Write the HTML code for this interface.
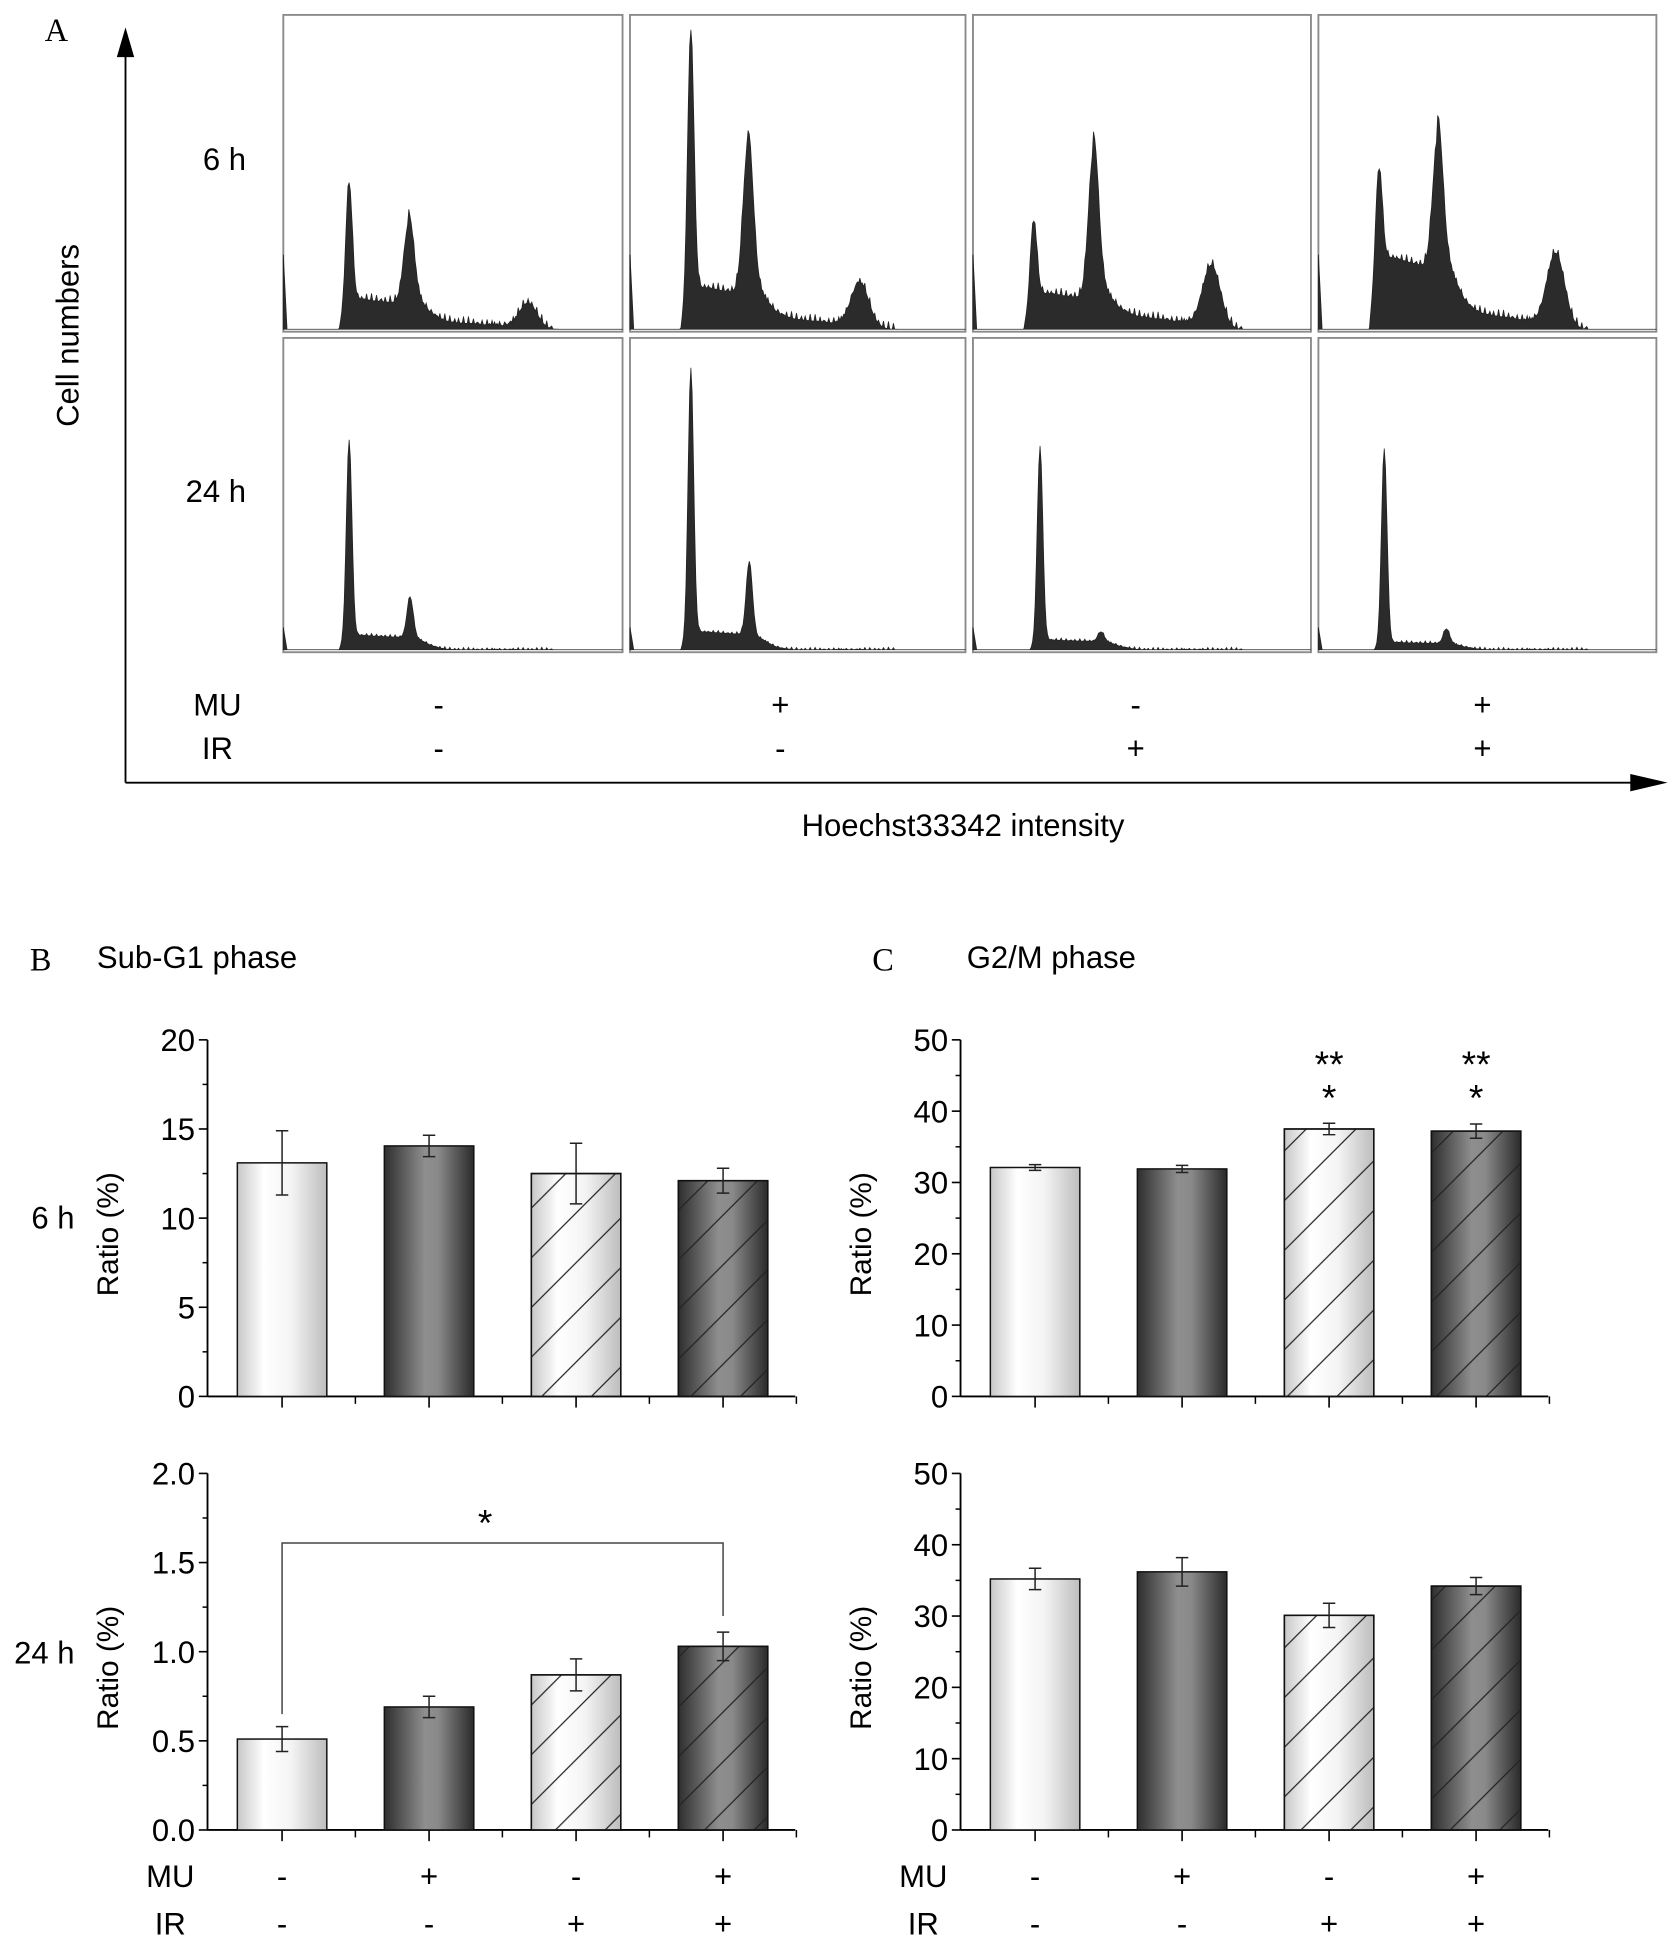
<!DOCTYPE html>
<html><head><meta charset="utf-8"><style>
html,body{margin:0;padding:0;background:#fff}
svg{display:block}
text{font-family:"Liberation Sans",sans-serif;fill:#000}
</style></head><body>
<svg id="fig" width="1680" height="1948" viewBox="0 0 1352 1568" preserveAspectRatio="none" xmlns="http://www.w3.org/2000/svg">
<defs>
<linearGradient id="gLight" x1="0" x2="1" y1="0" y2="0">
<stop offset="0" stop-color="#c8c8c8"/><stop offset="0.3" stop-color="#ffffff"/><stop offset="0.6" stop-color="#f4f4f4"/><stop offset="1" stop-color="#bdbdbd"/></linearGradient>
<linearGradient id="gDark" x1="0" x2="1" y1="0" y2="0">
<stop offset="0" stop-color="#2e2e2e"/><stop offset="0.45" stop-color="#8e8e8e"/><stop offset="0.6" stop-color="#8a8a8a"/><stop offset="1" stop-color="#2a2a2a"/></linearGradient>
<pattern id="hatch" patternUnits="userSpaceOnUse" width="40" height="40">
<path d="M-10,50 L50,-10 M-10,10 L10,-10 M30,50 L50,30" stroke="#222" stroke-width="1"/></pattern>
</defs>
<g id="panelA">
<text x="36" y="33" style="font-family:'Liberation Serif',serif" font-size="26">A</text>
<line x1="101" y1="40" x2="101" y2="630" stroke="#000" stroke-width="1.5"/>
<polygon points="101,22 94,46 108,46" fill="#000"/>
<line x1="101" y1="630" x2="1318" y2="630" stroke="#000" stroke-width="1.5"/>
<polygon points="1342,630 1312,623 1312,637" fill="#000"/>
<text x="63" y="270" font-size="25" transform="rotate(-90 63 270)" text-anchor="middle">Cell numbers</text>
<text x="775" y="673" font-size="25" text-anchor="middle">Hoechst33342 intensity</text>
<text x="198" y="137" font-size="25" text-anchor="end">6 h</text>
<text x="198" y="404" font-size="25" text-anchor="end">24 h</text>
<text x="175" y="576" font-size="25" text-anchor="middle">MU</text>
<text x="175" y="611" font-size="25" text-anchor="middle">IR</text>
<g id="histos"></g>
<g id="signsA"></g>
</g>
<g id="panelB">
<text x="24" y="781" font-size="26" style="font-family:'Liberation Serif',serif">B</text>
<text x="78" y="779" font-size="25">Sub-G1 phase</text>
<text x="60" y="989" font-size="25" text-anchor="end">6 h</text>
<text x="60" y="1339" font-size="25" text-anchor="end">24 h</text>
</g>
<g id="panelC">
<text x="702" y="781" font-size="26" style="font-family:'Liberation Serif',serif">C</text>
<text x="778" y="779" font-size="25">G2/M phase</text>
</g>
<g id="charts"></g>
</svg>
<script>
// ---- Histogram data (panel A) ----
const histRows = ["6 h", "24 h"];
const histG1Pos = [[53,49,49,49],[53,49,54,53]];
const histG1Height = [[93,206,57,69],[157,212,156,156]];
const histG2Pos = [[101,95,97,96],[102,96,103,103]];
const histG2Height = [[65,120,118,105],[33,59,8,12]];
const histMid = [[25,35,30,60],[12,15,8,6]];
const histTail = [[8,12,15,18],[0,0,0,0]];
const histBumpPos = [[197,185,192,191],[0,0,0,0]];
const histBumpHeight = [[20,35,49,58],[0,0,0,0]];
const muSigns = ["-","+","-","+"];
const irSigns = ["-","-","+","+"];

// ---- Bar chart data ----
const barCategories = ["MU-/IR-","MU+/IR-","MU-/IR+","MU+/IR+"];
const subG1_6h = [13.1, 14.05, 12.5, 12.1];
const subG1_6hErr = [1.8, 0.6, 1.7, 0.7];
const subG1_24h = [0.51, 0.69, 0.87, 1.03];
const subG1_24hErr = [0.07, 0.06, 0.09, 0.08];
const g2m_6h = [32.1, 31.9, 37.5, 37.2];
const g2m_6hErr = [0.4, 0.5, 0.8, 1.0];
const g2m_24h = [35.2, 36.2, 30.1, 34.2];
const g2m_24hErr = [1.5, 2.0, 1.7, 1.2];
const ticksSub6 = ["0","5","10","15","20"];
const ticksSub24 = ["0.0","0.5","1.0","1.5","2.0"];
const ticksG2 = ["0","10","20","30","40","50"];

const NS = "http://www.w3.org/2000/svg";
function mk(tag, attrs, parent){const e=document.createElementNS(NS,tag);for(const k in attrs)e.setAttribute(k,attrs[k]);parent.appendChild(e);return e;}

// Histograms
const hg = document.getElementById('histos');
const colX = [228,507,783,1061], colW = [273,270,272,272];
const rowTop = [12,272], rowBase = [265,523];
function gauss(x,m,s){return Math.exp(-0.5*((x-m)/s)*((x-m)/s));}
for(let r=0;r<2;r++){
  for(let c=0;c<4;c++){
    const x0=colX[c], w=colW[c], base=rowBase[r];
    const box = mk('rect',{x:x0,y:rowTop[r],width:w,height:rowBase[r]-rowTop[r]+2,fill:'#fff',stroke:'#8a8a8a','stroke-width':1.5},hg);
    
    
    const g1=histG1Pos[r][c], h1=histG1Height[r][c], g2=histG2Pos[r][c], h2=histG2Height[r][c];
    const mid=histMid[r][c], tail=histTail[r][c], bp=histBumpPos[r][c], bh=histBumpHeight[r][c];
    let d = 'M'+x0+','+base;
    for(let i=0;i<=w;i++){
      let v=0;
      if(i<3) v = (r===0?60:18)*(1-i/3);
      if(i>=g1-8){
        const jitter = (Math.sin(i*1.7)+Math.sin(i*3.3))*(r===0?3:1);
        v += h1*gauss(i,g1,r===0?2.5:2.2) + h2*gauss(i,g2,r===0?4:2.5);
        const onset = Math.min(1,(i-(g1-8))/6);
        if(i<g2) v += mid*onset*(1-0.2*(i-g1)/(g2-g1));
        else v += Math.max(0, tail*(1-(i-g2)/(w-60-g2)) + mid*gauss(i,g2,12)*0.8);
        if(bh) v += bh*gauss(i,bp,7);
        if(i<w-55) v += Math.max(0,jitter)*onset;
        if(i<g1-8+6) v = Math.max(v, onset*(mid+h1*gauss(i,g1,2.5)));
      }
      d += ' L'+(x0+i)+','+(base-Math.min(v,base-rowTop[r]-4)).toFixed(1);
    }
    d += ' L'+(x0+w)+','+base+' Z';
    const p = mk('path',{d:d,fill:'#2b2b2b',stroke:'#222','stroke-width':0.6},hg);
    
    
  }
}
const sa = document.getElementById('signsA');
const signX=[353,628,914,1193];
for(let c=0;c<4;c++){
  const t1=mk('text',{x:signX[c],y:576,'font-size':25,'text-anchor':'middle'},sa); t1.textContent=muSigns[c];
   
  const t2=mk('text',{x:signX[c],y:611,'font-size':25,'text-anchor':'middle'},sa); t2.textContent=irSigns[c];
   
}

// Bar charts
const cg = document.getElementById('charts');
function barChart(o){
  const g = mk('g',{},cg);
  
  
  const yS = v => o.y0 - (v - 0)/(o.max)*(o.y0-o.yTop);
  const xS = i => o.ax + 60 + i*118.3;
  const ya=mk('line',{x1:o.ax,y1:o.yTop,x2:o.ax,y2:o.y0,stroke:'#000','stroke-width':1.5},g);
   
  const xa=mk('line',{x1:o.ax,y1:o.y0,x2:o.ax+473,y2:o.y0,stroke:'#000','stroke-width':1.5},g);
   
  const n=o.ticks.length-1;
  for(let k=0;k<=n;k++){
    const v=o.max*k/n, y=yS(v);
    mk('line',{x1:o.ax-7,y1:y,x2:o.ax,y2:y,stroke:'#000','stroke-width':1.3},g);
    if(k<n){const ym=yS(v+o.max/n/2); mk('line',{x1:o.ax-4,y1:ym,x2:o.ax,y2:ym,stroke:'#000','stroke-width':1.2},g);}
    const t=mk('text',{x:o.ax-10,y:y+9,'font-size':25,'text-anchor':'end'},g); t.textContent=o.ticks[k];
     
  }
  for(let i=0;i<4;i++){
    mk('line',{x1:xS(i),y1:o.y0,x2:xS(i),y2:o.y0+9,stroke:'#000','stroke-width':1.3},g);
    mk('line',{x1:xS(i)+59,y1:o.y0,x2:xS(i)+59,y2:o.y0+6,stroke:'#000','stroke-width':1.2},g);
  }
  const lx0=o.ax-72, ly0=(o.yTop+o.y0)/2+13;
  const yl=mk('text',{x:lx0,y:ly0,'font-size':24,'text-anchor':'middle',transform:'rotate(-90 '+lx0+' '+ly0+')'},g);
  yl.textContent='Ratio (%)';  
  for(let i=0;i<4;i++){
    const v=o.vals[i], e=o.errs[i], x=xS(i), yt=yS(v);
    const b=mk('rect',{x:x-36,y:yt,width:72,height:o.y0-yt,fill:(i%2===0)?'url(#gLight)':'url(#gDark)',stroke:'#111','stroke-width':1.2},g);
     
    if(i>=2){const h=mk('rect',{x:x-36,y:yt,width:72,height:o.y0-yt,fill:'url(#hatch)',stroke:'#111','stroke-width':1.2},g);
       }
    const ey1=yS(v+e), ey2=yS(v-e);
    const eb=mk('path',{d:`M${x},${ey1} L${x},${ey2} M${x-5},${ey1} L${x+5},${ey1} M${x-5},${ey2} L${x+5},${ey2}`,stroke:'#222','stroke-width':1.2,fill:'none'},g);
     
  }
  if(o.stars){
    for(let i=2;i<4;i++){
      const s1=mk('text',{x:xS(i),y:o.yTop+30,'font-size':30,'text-anchor':'middle'},g); s1.textContent='**';
       
      const s2=mk('text',{x:xS(i),y:o.yTop+57,'font-size':30,'text-anchor':'middle'},g); s2.textContent='*';
       
    }
  }
  if(o.bracket){
    const by=yS(1.61);
    const br=mk('path',{d:`M${xS(0)},${yS(0.65)} L${xS(0)},${by} L${xS(3)},${by} L${xS(3)},${yS(1.2)}`,stroke:'#444','stroke-width':1.2,fill:'none'},g);
     
    const st=mk('text',{x:(xS(0)+xS(3))/2-14,y:by-6,'font-size':30,'text-anchor':'middle'},g); st.textContent='*';
     
  }
  if(o.signs){
    const lx=o.ax-30;
    const m=mk('text',{x:lx,y:1519,'font-size':25,'text-anchor':'middle'},g); m.textContent='MU';
     
    const r=mk('text',{x:lx,y:1557,'font-size':25,'text-anchor':'middle'},g); r.textContent='IR';
     
    for(let i=0;i<4;i++){
      const a=mk('text',{x:xS(i),y:1519,'font-size':25,'text-anchor':'middle'},g); a.textContent=muSigns[i];
       
      const bb=mk('text',{x:xS(i),y:1557,'font-size':25,'text-anchor':'middle'},g); bb.textContent=irSigns[i];
       
    }
  }
}
barChart({name:'subg1-6h-chart',ax:167,yTop:837,y0:1124,max:20,ticks:ticksSub6,vals:subG1_6h,errs:subG1_6hErr});
barChart({name:'subg1-24h-chart',ax:167,yTop:1186,y0:1473,max:2.0,ticks:ticksSub24,vals:subG1_24h,errs:subG1_24hErr,bracket:true,signs:true});
barChart({name:'g2m-6h-chart',ax:773,yTop:837,y0:1124,max:50,ticks:ticksG2,vals:g2m_6h,errs:g2m_6hErr,stars:true});
barChart({name:'g2m-24h-chart',ax:773,yTop:1186,y0:1473,max:50,ticks:ticksG2,vals:g2m_24h,errs:g2m_24hErr,signs:true});
</script>
</body></html>
